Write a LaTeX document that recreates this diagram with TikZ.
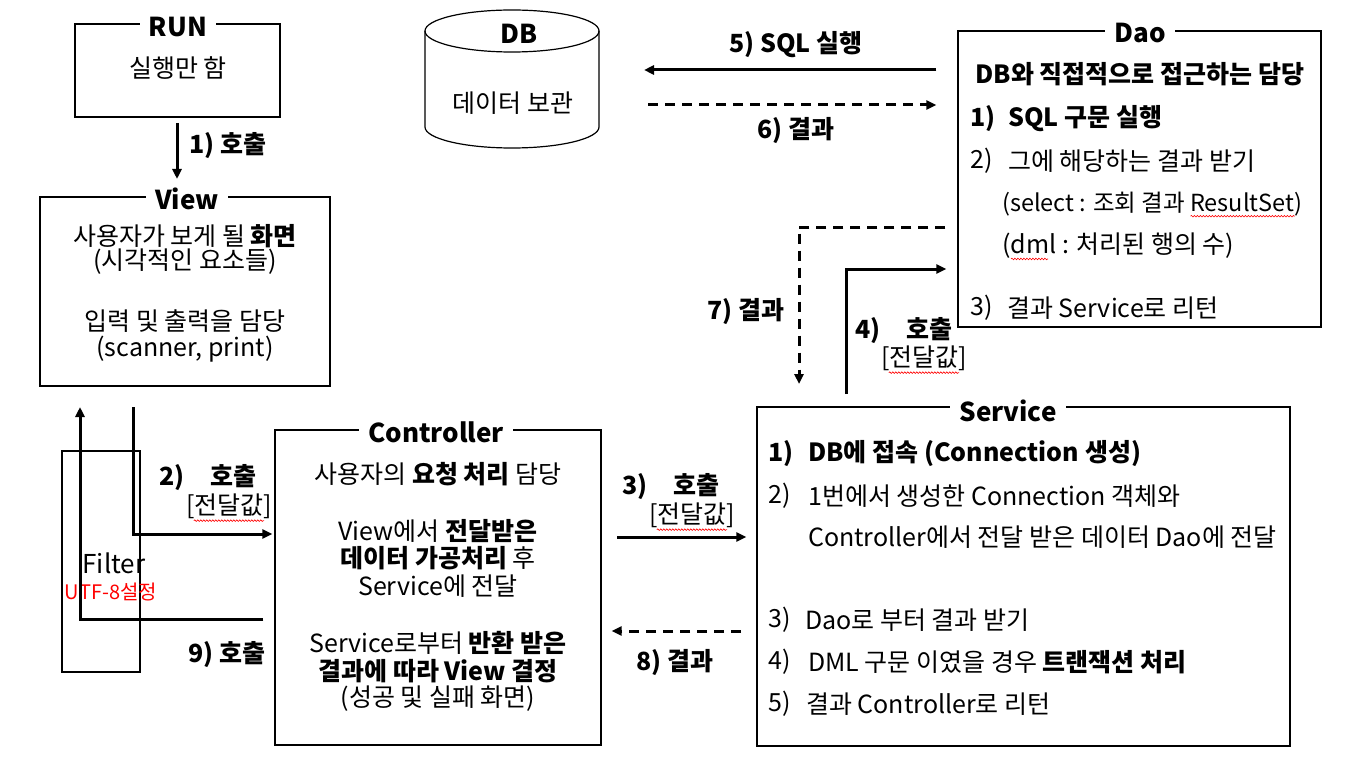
\documentclass[tikz,border=0pt]{standalone}
\usepackage{fontspec}
\setmainfont{Noto Sans CJK KR}
\usetikzlibrary{arrows.meta,calc,decorations.pathmorphing}
\begin{document}
\begin{tikzpicture}[x=1pt,y=-1pt,
  box/.style={draw=black, line width=1.2pt, inner sep=0pt},
  ttl/.style={fill=white, inner xsep=9pt, inner ysep=1pt, font=\fontsize{26}{30}\selectfont\bfseries},
  txt/.style={inner sep=0pt, font=\fontsize{25}{29}\selectfont},
  lbl/.style={inner sep=0pt, font=\fontsize{25}{29}\selectfont\bfseries},
  arr/.style={line width=3pt, -{Triangle[length=10pt,width=9pt]}},
  darr/.style={arr, dash pattern=on 10pt off 7pt},
  squiggle/.style={draw=red, line width=0.6pt, decorate, decoration={snake, amplitude=0.8pt, segment length=3pt}},
]
\useasboundingbox (0,0) rectangle (1351,770);

% ---------- boxes ----------
\node[box, minimum width=205pt, minimum height=93pt] (run) at (177.5,70.5) {};
\node[ttl] (runT) at (178,27) {RUN};
\node[txt] (runL) at (178,68) {실행만 함};

\node[box, minimum width=290pt, minimum height=189pt] (view) at (185,291.5) {};
\node[ttl] (viewT) at (187,199) {View};
\node[txt] (v1) at (185,236) {사용자가 보게 될 \textbf{화면}};
\node[txt] (v2) at (185,262) {(시각적인 요소들)};
\node[txt] (v3) at (185,321) {입력 및 출력을 담당};
\node[txt] (v4) at (185,349) {(scanner, print)};

\node[box, minimum width=78pt, minimum height=221pt] (filter) at (101,561.5) {};
\node[txt, font=\fontsize{26}{30}\selectfont] (fl) at (114,563) {Filter};
\node[txt, text=red, font=\fontsize{20}{24}\selectfont] (fu) at (111,592) {UTF-8설정};

\node[box, minimum width=326pt, minimum height=315pt] (ctrl) at (438,587.5) {};
\node[ttl] (ctrlT) at (436,432) {Controller};
\node[txt] (c1) at (438,474) {사용자의 \textbf{요청 처리} 담당};
\node[txt] (c2) at (438,531) {View에서 \textbf{전달받은}};
\node[txt] (c3) at (438,558) {\textbf{데이터 가공처리} 후};
\node[txt] (c4) at (438,586) {Service에 전달};
\node[txt] (c5) at (438,643) {Service로부터 \textbf{반환 받은}};
\node[txt] (c6) at (438,671) {\textbf{결과에 따라 View 결정}};
\node[txt] (c7) at (438,699) {(성공 및 실패 화면)};

\node[box, minimum width=533pt, minimum height=339pt] (serv) at (1023.5,576.5) {};
\node[ttl] (servT) at (1008,411) {Service};
\node[lbl, anchor=west] (s1n) at (768,454) {1)};
\node[lbl, anchor=west] (s1) at (808,454) {DB에 접속 (Connection 생성)};
\node[txt, anchor=west] (s2n) at (768,496) {2)};
\node[txt, anchor=west] (s2) at (808,496) {1번에서 생성한 Connection 객체와};
\node[txt, anchor=west] (s2b) at (808,537) {Controller에서 전달 받은 데이터 Dao에 전달};
\node[txt, anchor=west] (s3n) at (768,620) {3)};
\node[txt, anchor=west] (s3) at (805,620) {Dao로 부터 결과 받기};
\node[txt, anchor=west] (s4n) at (768,662) {4)};
\node[txt, anchor=west] (s4) at (808,662) {DML 구문 이였을 경우 \textbf{트랜잭션 처리}};
\node[txt, anchor=west] (s5n) at (768,704) {5)};
\node[txt, anchor=west] (s5) at (806,704) {결과 Controller로 리턴};

\node[box, minimum width=363pt, minimum height=296pt] (dao) at (1139.5,179) {};
\node[ttl] (daoT) at (1140,33) {Dao};
\node[lbl] (d0) at (1140,74) {DB와 직접적으로 접근하는 담당};
\node[lbl, anchor=west] (d1n) at (970,119) {1)};
\node[lbl, anchor=west] (d1) at (1008,119) {SQL 구문 실행};
\node[txt, anchor=west] (d2n) at (970,161) {2)};
\node[txt, anchor=west] (d2) at (1008,161) {그에 해당하는 결과 받기};
\node[txt, anchor=west, font=\fontsize{23.5}{28}\selectfont] (d3) at (1002,204) {(select : 조회 결과 ResultSet)};
\node[txt, anchor=west] (d4) at (1002,246) {(dml : 처리된 행의 수)};
\node[txt, anchor=west] (d5n) at (970,308) {3)};
\node[txt, anchor=west] (d5) at (1007,308) {결과 Service로 리턴};

% ---------- DB cylinder ----------
\draw[line width=1.2pt] (512,31) ellipse[x radius=87, y radius=21];
\draw[line width=1.2pt] (425,31) -- (425,127) arc[start angle=180, end angle=0, x radius=87, y radius=21] -- (599,31);
\node[lbl, font=\fontsize{26}{30}\selectfont\bfseries] (dbT) at (519,34) {DB};
\node[txt] (dbL) at (513,103) {데이터 보관};
\coordinate (dbE) at (599,70);
\coordinate (dbE2) at (599,105);

% ---------- connectors ----------
\coordinate (c1a) at (177,123);
\coordinate (c1b) at (177,179);
\draw[arr] (c1a) -- (c1b);
\node[lbl] (l1) at (228,146) {1) 호출};

\draw[arr] ($(dao.west)+(-21,-109)$) -- (dbE) [shorten >=45pt];
\draw[darr] (dbE2) [shorten <=49pt] -- ($(dao.west)+(-21,-74)$);
\node[lbl] (l5) at (796,45) {5) SQL 실행};
\node[lbl] (l6) at (796,131) {6) 결과};

\coordinate (c2a) at (133,407);
\draw[arr] (c2a) |- ($(ctrl.west)+(-2,-53.5)$);
\node[lbl] (l2) at (208,478) {2)\hspace{26pt}호출};
\node[txt] (l2b) at (229,506) {[전달값]};

\coordinate (c9e) at (80,407);
\draw[arr] ($(ctrl.west)+(-11,31.5)$) -| (c9e);
\node[lbl] (l9) at (227,655) {9) 호출};

\coordinate (c3a) at (617,537);
\draw[arr] (c3a) -- (c3a -| serv.west) [shorten >=10pt];
\node[lbl] (l3) at (671,487) {3)\hspace{26pt}호출};
\node[txt] (l3b) at (692,515) {[전달값]};

\coordinate (c8a) at (741,631);
\draw[darr] (c8a) -- (c8a -| ctrl.east) [shorten >=10pt];
\node[lbl] (l8) at (675,663) {8) 결과};

\coordinate (c7e) at (799,384);
\draw[darr] ($(dao.west)+(-12,48)$) -| (c7e);
\node[lbl] (l7) at (746,312) {7) 결과};

\coordinate (c4a) at (846,394);
\draw[arr] (c4a) |- ($(dao.west)+(-11,90)$);
\node[lbl] (l4) at (904,331) {4)\hspace{26pt}호출};
\node[txt] (l4b) at (924,358) {[전달값]};

% ---------- spell-check squiggles ----------
\path[squiggle] ($(l2b.south west)+(8,2)$) -- ($(l2b.south east)+(-8,2)$);
\path[squiggle] ($(l3b.south west)+(8,2)$) -- ($(l3b.south east)+(-8,2)$);
\path[squiggle] ($(l4b.south west)+(8,2)$) -- ($(l4b.south east)+(-8,2)$);
\path[squiggle] ($(d3.south east)+(-112,0)$) -- ($(d3.south east)+(-8,0)$);
\path[squiggle] ($(d4.south west)+(9,0)$) -- ($(d4.south west)+(46,0)$);
\end{tikzpicture}
\end{document}
